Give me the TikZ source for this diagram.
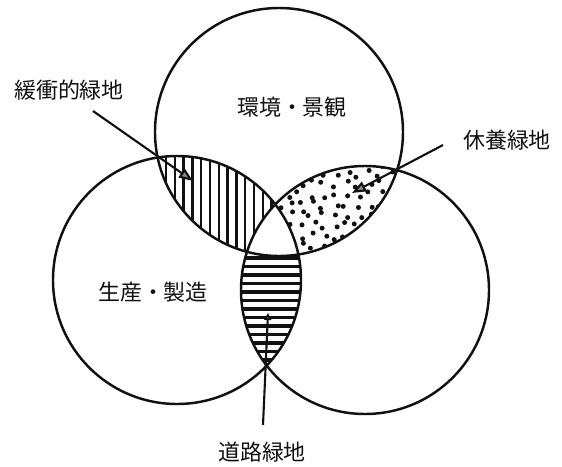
\documentclass[tikz,border=0pt]{standalone}
\usepackage{fontspec}
\newfontfamily\jpfont{Noto Sans CJK JP}
\usetikzlibrary{arrows.meta}
\definecolor{InkBlack}{HTML}{111111}
\definecolor{ArrowGrey}{HTML}{8A8A8A}

\begin{document}
\begin{tikzpicture}[
    x=0.02cm, y=-0.02cm,
    zone/.style={draw=InkBlack, line width=1.4pt},
    vstripe/.style={draw=InkBlack, line width=1.4pt},
    hstripe/.style={draw=InkBlack, line width=1.9pt},
    speckle/.style={fill=InkBlack},
    pointer/.style={draw=InkBlack, line width=1.2pt, -{Triangle[length=8pt, width=6pt, fill=ArrowGrey]}},
    smallpointer/.style={draw=InkBlack, line width=1.2pt, -{Triangle[length=4pt, width=4pt, fill=ArrowGrey]}},
    zonelabel/.style={font=\jpfont\fontsize{12.5}{15}\selectfont, text=InkBlack, inner sep=0pt}
]

\useasboundingbox (0,0) rectangle (562,467);
\fill[white] (0,0) rectangle (562,467);

\def\rad{124}
\coordinate (envc) at (279,132);
\coordinate (prodc) at (177,280);
\coordinate (restc) at (365,290);

\begin{scope}
    \clip (envc) circle (\rad);
    \clip (prodc) circle (\rad);
    \foreach \x in {166,174.8,...,305} \draw[vstripe] (\x,140) -- (\x,270);
\end{scope}

\begin{scope}
    \clip (prodc) circle (\rad);
    \clip (restc) circle (\rad);
    \foreach \y in {258,266.5,...,375} \draw[hstripe] (230,\y) -- (320,\y);
\end{scope}

\begin{scope}
    \clip (envc) circle (\rad);
    \clip (restc) circle (\rad);
    \pgfmathsetseed{11}
    \foreach \i in {0,...,14} {
        \foreach \j in {0,...,9} {
            \pgfmathsetmacro\px{243+\i*11.5+4*rand}
            \pgfmathsetmacro\py{163+\j*10.5+4*rand}
            \fill[speckle] (\px,\py) circle (2.5);
        }
    }
\end{scope}

\begin{scope}
    \clip (envc) circle (\rad);
    \clip (prodc) circle (\rad);
    \fill[white] (restc) circle (\rad);
\end{scope}

\draw[zone] (envc) circle (\rad);
\draw[zone] (prodc) circle (\rad);
\draw[zone] (restc) circle (\rad);

\node[zonelabel] (envlabel) at (292,107) {環境・景観};
\node[zonelabel] (prodlabel) at (153,292) {生産・製造};
\node[zonelabel] (buflabel) at (69,90) {緩衝的緑地};
\node[zonelabel] (restlabel) at (507,140) {休養緑地};
\node[zonelabel] (roadlabel) at (262,452) {道路緑地};

\coordinate (buftail) at (93,111);
\coordinate (buftip) at (193,181);
\coordinate (resttail) at (443,145);
\coordinate (resttip) at (352,193);
\coordinate (roadtail) at (263,425);
\coordinate (roadtip) at (268,313);

\draw[pointer] (buftail) -- (buftip);
\draw[pointer] (resttail) -- (resttip);
\draw[smallpointer] (roadtail) -- (roadtip);

\end{tikzpicture}
\end{document}
